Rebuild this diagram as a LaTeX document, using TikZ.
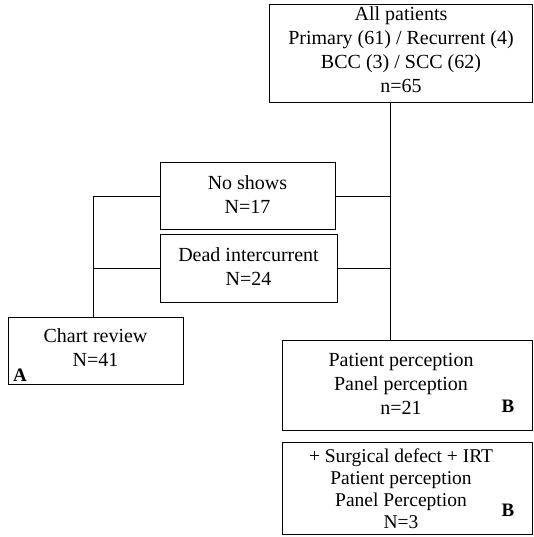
\documentclass[tikz,border=0pt]{standalone}
\usepackage{fontspec}
\setmainfont{Liberation Serif}
\begin{document}
\begin{tikzpicture}[x=1pt,y=-1pt,
  box/.style={draw, line width=1pt, rectangle, inner sep=0pt},
  txt/.style={align=center, inner sep=0pt, font=\fontsize{20}{24}\selectfont},
  conn/.style={line width=0.9pt},
  tag/.style={font=\fontsize{19}{20}\selectfont\bfseries, inner sep=0pt}]
\useasboundingbox (0,0) rectangle (534,537);
\node[box, minimum width=263, minimum height=98] (all) at (401,54) {};
\node[txt] (allt) at (401,50)
  {All patients\\Primary (61) / Recurrent (4)\\BCC (3) / SCC (62)\\n=65};
\node[box, minimum width=175, minimum height=66] (ns) at (247.5,196) {};
\node[txt] (nst) at (247.5,195) {No shows\\N=17};
\node[box, minimum width=177, minimum height=68] (dead) at (248.5,268) {};
\node[txt] (deadt) at (248.5,267) {Dead intercurrent\\N=24};
\node[box, minimum width=175, minimum height=67] (cr) at (95.5,350.5) {};
\node[txt] (crt) at (95.5,348) {Chart review\\N=41};
\node[box, minimum width=250, minimum height=90] (pp) at (407,385) {};
\node[txt] (ppt) at (401,384) {Patient perception\\Panel perception\\n=21};
\node[box, minimum width=250, minimum height=92] (sd) at (407,488) {};
\node[txt, font=\fontsize{19.5}{22}\selectfont] (sdt) at (401,488.5)
  {+ Surgical defect + IRT\\Patient perception\\Panel Perception\\N=3};
\node[tag] (la) at (20,375) {A};
\node[tag] (lb1) at (508,406) {B};
\node[tag] (lb2) at (508,510) {B};
\coordinate (rs) at (390,0);
\coordinate (ls) at (93,0);
\draw[conn] (all.south -| rs) -- (pp.north -| rs);
\draw[conn] (ns.east) -- (ns.east -| rs);
\draw[conn] (dead.east) -- (dead.east -| rs);
\draw[conn] (ns.west) -- (ns.west -| ls) -- (cr.north -| ls);
\draw[conn] (dead.west) -- (dead.west -| ls);
\end{tikzpicture}
\end{document}
